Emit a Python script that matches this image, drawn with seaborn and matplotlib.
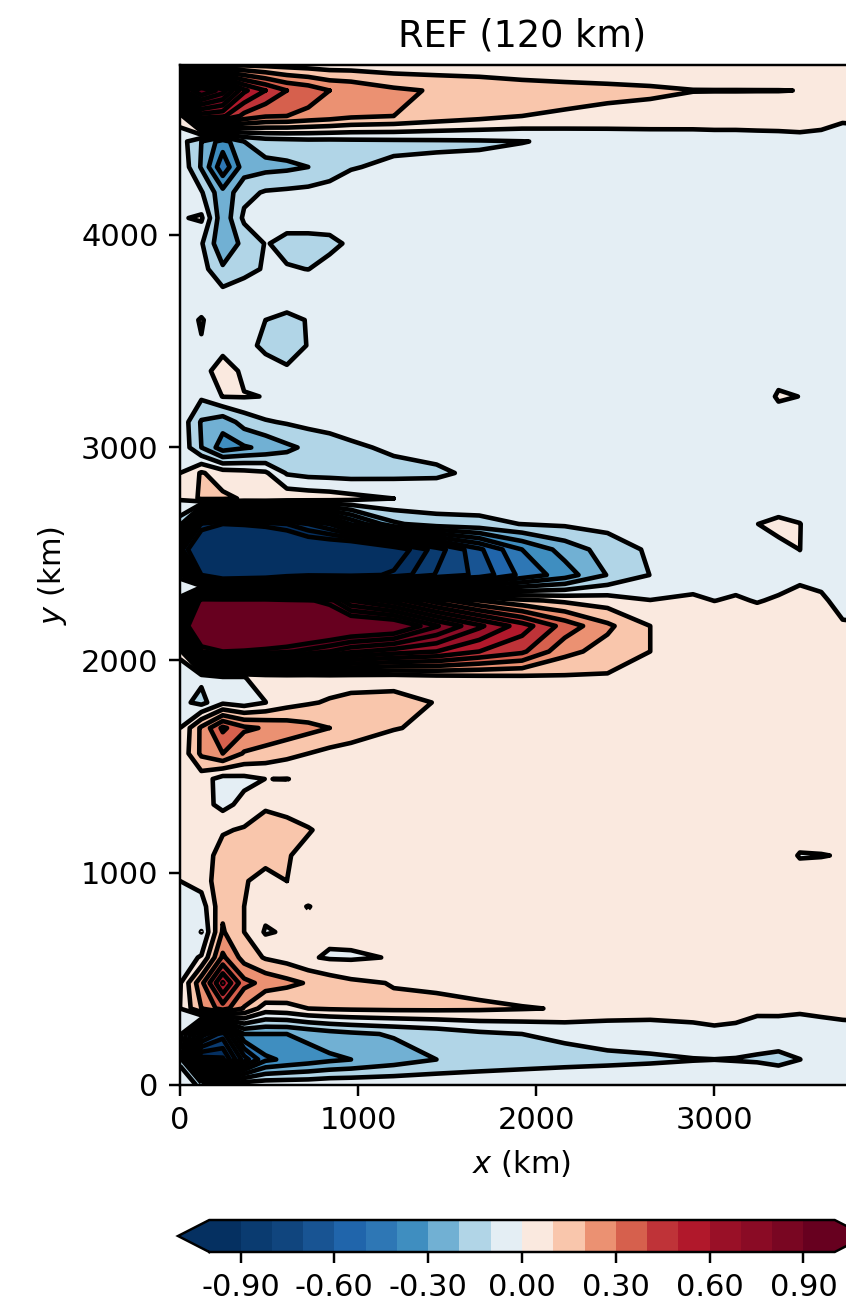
import matplotlib
matplotlib.use("Agg")
import matplotlib.pyplot as plt
from matplotlib.colors import ListedColormap
import numpy as np
import pandas as pd
import seaborn as sns

# zonal distance (km)
x_km = [0, 120, 240, 360, 480, 600, 720, 840, 960, 1200, 1440, 1680, 1920,
        2160, 2400, 2640, 2880, 3000, 3120, 3240, 3360, 3480, 3600, 3720, 3840]
# meridional distance (km), top row first
y_km = list(range(4800, -1, -120))

# field, in hundredths
z_rows = [
    [-5, 2, 6, 9, 8, 7, 6, 5, 5, 4, 4, 4, 3, 3, 3, 3, 3, 3, 3, 3, 3, 3, 3, 3, 2],
    [85, 110, 95, 62, 50, 40, 36, 30, 28, 22, 19, 17, 15, 13.5, 12.5, 11.5, 10.2, 10.15, 10.15, 10.12, 10.1, 9.95, 7, 4, 3],
    [4, 55, 52, 37, 31, 30, 27, 25, 22, 20, 16, 13, 10, 8.8, 7.5, 7, 6, 6, 6, 6, 6.5, 7, 6, 3, 3],
    [-5, -20, -35, -20, -15, -14, -13, -13, -12.5, -12, -11.5, -11, -10.2, -9, -7.5, -6.5, -5.5, -5, -5, -4.5, -4.5, -4, -5, -8, -6],
    [-2, -21, -47, -25, -23, -22, -20, -15, -10.5, -8.5, -8, -8, -7, -6, -5, -5, -5, -5, -5, -4, -4, -4, -4, -4, -4],
    [-1, -9, -27, -13, -9, -8, -7, -6, -6, -5, -5, -5, -5, -5, -5, -5, -5, -5, -5, -5, -5, -5, -5, -5, -5],
    [-1, 1.5, -27, -8, -6, -7, -7, -7, -5, -5, -5, -5, -5, -5, -5, -5, -5, -5, -5, -5, -5, -5, -5, -5, -5],
    [-3, -9, -28, -17, -9.5, -12, -12, -11.5, -9, -6, -5, -5, -5, -5, -5, -5, -5, -5, -5, -5, -5, -5, -5, -5, -5],
    [-3, -6, -18.5, -13, -9, -9.5, -10.1, -8, -6, -5, -5, -5, -5, -5, -5, -5, -5, -5, -5, -5, -5, -5, -5, -5, -5],
    [-2, -4, -6.4, -4.5, -4, -4, -5, -5, -5, -5, -5, -5, -5, -5, -5, -5, -5, -5, -5, -5, -5, -5, -5, -5, -5],
    [-3, 0.5, -4, -5, -10, -12.5, -9.5, -6, -5, -5, -5, -5, -5, -5, -5, -5, -5, -5, -5, -5, -5, -5, -5, -5, -5],
    [-3, -0.4, -3.5, -7, -12, -15, -9.5, -6, -5, -5, -5, -5, -5, -5, -5, -5, -5, -5, -5, -5, -5, -5, -5, -5, -5],
    [-5, -4, 5, -2, -6, -8.4, -6, -5, -5, -5, -5, -5, -5, -5, -5, -5, -5, -5, -5, -5, -3, -5, -5, -5, -5],
    [-3, -8.3, 0.3, 0.5, -0.2, -5, -5, -5, -5, -5, -5, -5, -5, -5, -5, -5, -5, -5, -5, -5, 1, -0.1, -5, -5, -5],
    [-3, -21, -26, -16, -11, -9, -7, -6, -6, -5, -5, -5, -5, -5, -5, -5, -5, -5, -5, -5, -4, -5, -5, -5, -5],
    [-2, -20, -35, -31, -28, -22, -18, -15, -11.5, -8.5, -7, -6, -5, -5, -5, -5, -5, -5, -5, -5, -5, -5, -5, -5, -5],
    [0, 11, 5, 3.5, 1.5, -11, -13, -13.5, -14, -13, -11.5, -8, -6, -5, -5, -5, -5, -5, -5, -5, -5, -5, -5, -5, -5],
    [1, 12, 12, 9, 9, 7, 6, 5, 3, 0, -4, -5, -5, -5, -5, -5, -5, -5, -5, -5, -5.4, -5, -5, -5, -5],
    [-15, -92, -100, -98, -95, -90, -80, -70, -49, -22, -14, -12.5, -9.8, -8.5, -7, -6, -5, -5, -5, -0.1, 2, 0.2, -5, -5, -5],
    [-85, -125, -150, -150, -140, -130, -120, -120, -125, -109, -85, -62, -40, -26, -15.5, -8.5, -4, -4, -4, -4, -1.9, 0.05, -4, -5, -5],
    [-12, -100, -135, -130, -125, -110, -103, -104, -105, -98, -79, -67, -47, -35, -19.5, -9.8, -4, -3, -3, -4, -3, -2, -3, -6, -6],
    [2, 110, 110, 110, 110, 105, 102, 95, 70, 55, 35, 20, 12, 8, 5, 0.2, 1.3, -0.1, 0.8, -0.4, 0.8, 3, 1.5, -3, -3],
    [75, 140, 160, 155, 145, 135, 130, 125, 120, 115, 91, 72, 55, 36, 22, 10, 7, 5, 5, 4, 3, 3, 2, 1, 0.5],
    [3, 90, 100, 98, 95, 92, 86, 80, 72, 65, 60, 50, 42, 23, 16, 10, 6, 5, 5, 4, 4, 3, 3, 3, 3],
    [-7, -8, -0.2, -0.2, 3, 4, 4, 5, 5, 5, 7, 8, 8.5, 9, 9, 4, 3, 3, 3, 3, 3, 3, 3, 3, 3],
    [-7, -13, -2, -5, -0.1, 6, 9, 11, 13, 14, 9.5, 6, 5, 4.5, 4, 4, 3, 3, 3, 3, 3, 3, 3, 3, 3],
    [0, 22, 42, 32, 29, 26, 23, 20, 17, 10.5, 8, 6, 5, 4, 4, 3, 3, 3, 3, 3, 3, 3, 3, 3, 3],
    [2, 22, 30, 19, 16, 13, 10, 7, 5, 4, 4, 4, 4, 4, 4, 3, 3, 3, 3, 3, 3, 3, 3, 3, 3],
    [2, 4.5, -4, -2.6, 0.1, -0.2, 2, 3, 4, 4, 4, 4, 4, 4, 4, 3, 3, 3, 3, 3, 3, 3, 3, 3, 3],
    [3, 4, -3, 3, 9, 8, 6, 5, 4, 4, 4, 4, 4, 4, 4, 4, 3, 3, 3, 3, 3, 3, 3, 3, 3],
    [3, 5, 9, 11, 13, 12, 10.5, 8, 6, 5, 4, 4, 4, 4, 4, 4, 4, 4, 4, 4, 3, 3, 3, 3, 3],
    [3, 5, 14, 13, 12, 10.5, 8, 6, 5, 4, 4, 4, 4, 4, 4, 4, 4, 4, 4, 4, 3, -0.4, -0.2, 0.3, 3],
    [0, 4, 17, 10.5, 8, 10, 6, 5, 3.5, 4, 4, 4, 4, 4, 4, 4, 4, 4, 4, 4, 3, 3, 3, 3, 3],
    [-4, -5, 18, 10, 3, 2, -0.2, 2, 3, 3, 3, 3, 3, 3, 3, 3, 3, 3, 3, 3, 3, 3, 3, 3, 3],
    [-3, -10.2, 21, 10, -1, 1.2, 2, 2, 3, 3, 3, 3, 3, 3, 3, 3, 3, 3, 3, 3, 3, 3, 3, 3, 3],
    [-5, 1, 32, 16, 9, 6, 1, -1, -1.2, 0.5, 3, 3, 3, 3, 3, 3, 3, 3, 3, 3, 3, 3, 3, 3, 3],
    [-1, 27, 61, 33, 27, 23, 19, 15, 12, 9.5, 8.7, 7, 5, 3, 3, 3, 3, 3, 3, 3, 3, 3, 3, 3, 3],
    [0, 20, 35, 19, 5, 6.4, 10, 11, 11.5, 12, 12, 11.5, 10.5, 9.5, 5, 4, 3, 3, 3, 2.5, 2, 2, 2.5, 2, 3],
    [-7, -55, -75, -30, -30, -30, -27, -24, -22, -19, -16, -12, -10, -8, -5.5, -5, -2.5, -1.5, -2.3, -6, -4.7, -7.3, -5, -2.5, -3],
    [-12, -105, -102, -65, -42, -38, -35, -32, -30, -25, -20, -17, -15, -13.5, -12.5, -11.5, -10.4, -10.1, -10.5, -11, -12.5, -10.05, -8, -6, -5],
    [-4, -12, -5, -3, -3, -3, -3, -2, -2, -2, -2, -2, -2, -2, -2, -2, -2, -2, -2, -2, -2, -2, -2, -2, -2],
]

levels = np.arange(-1.0, 1.01, 0.1)
cbar_ticks = [-0.9, -0.6, -0.3, 0.0, 0.3, 0.6, 0.9]
x_ticks = [0, 1000, 2000, 3000]
y_ticks = [0, 1000, 2000, 3000, 4000]
# where each of the 20 colour bands sits along RdBu_r, lowest band first
band_pos = [0.0, 0.02, 0.04, 0.07, 0.10, 0.14, 0.19, 0.26, 0.35, 0.45,
            0.55, 0.64, 0.73, 0.80, 0.86, 0.90, 0.93, 0.95, 0.975, 1.0]

sns.set_style("ticks", {
    "axes.edgecolor": "black", "axes.labelcolor": "black", "text.color": "black",
    "xtick.color": "black", "ytick.color": "black", "font.sans-serif": ["DejaVu Sans"],
})
plt.rcParams["font.family"] = ["DejaVu Sans"]
plt.rcParams["mathtext.fontset"] = "dejavusans"

W, H, DPI = 846, 1309, 220
field = pd.DataFrame(z_rows, index=y_km, columns=x_km).sort_index() / 100.0
rdbu = sns.color_palette("RdBu_r", as_cmap=True)
cmap = ListedColormap([rdbu(p) for p in band_pos])
cmap.set_under(rdbu(0.0))
cmap.set_over(rdbu(1.0))

fig = plt.figure(figsize=(W / DPI, H / DPI), dpi=DPI)
# axes run past the right edge of the picture, as in the cropped panel
ax = fig.add_axes([180 / W, (H - 1085) / H, 684 / W, 1020 / H])
cf = ax.contourf(field.columns, field.index, field.values, levels=levels, cmap=cmap, extend="both")
ax.contour(field.columns, field.index, field.values, levels=levels, colors="k",
           linewidths=1.5, linestyles="solid")
ax.set_xlim(0, 3840)
ax.set_ylim(0, 4800)
ax.set_xticks(x_ticks)
ax.set_yticks(y_ticks)
ax.set_xlabel("$x$ (km)", fontsize=10)
ax.set_ylabel("$y$ (km)", fontsize=10)
ax.tick_params(labelsize=10)
ax.set_title("REF (120 km)", fontsize=12)

cax = fig.add_axes([178 / W, (H - 1252) / H, 688 / W, 32 / H])
cb = fig.colorbar(cf, cax=cax, orientation="horizontal", ticks=cbar_ticks, format="%.2f")
cb.ax.tick_params(labelsize=10)

fig.savefig("out.png", dpi=DPI)
